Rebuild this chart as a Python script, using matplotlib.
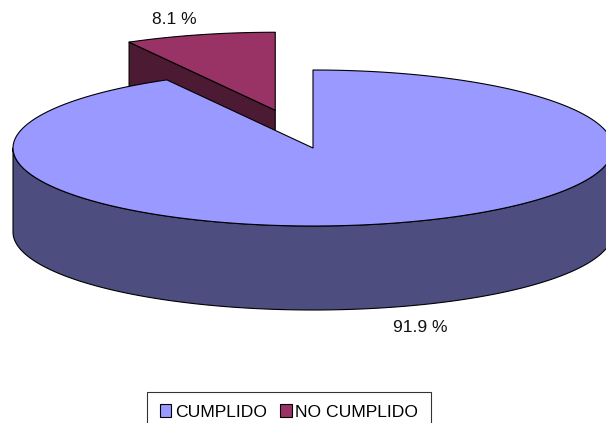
import numpy as np
import matplotlib
matplotlib.use("Agg")
import matplotlib.pyplot as plt
from matplotlib.patches import Polygon, Patch

categories = ["CUMPLIDO", "NO CUMPLIDO"]
values = [91.9, 8.1]
label_pos = [(420, 327), (174, 19)]
top_colors = ["#9999FF", "#993366"]
side_colors = ["#4D4D80", "#4D1A33"]
explode = [0.0, 0.5]

plt.rcParams["font.family"] = ["Liberation Sans", "DejaVu Sans"]

fig = plt.figure(figsize=(6.06, 4.23), dpi=100)
ax = fig.add_axes([0, 0, 1, 1])
ax.set_xlim(0, 606)
ax.set_ylim(423, 0)
ax.axis("off")

CX, CY, RX, RY, DEPTH = 313, 148, 300, 78, 84
LW = 0.8


def pt(cx, cy, a_deg, dz=0.0):
    a = np.deg2rad(a_deg)
    return np.array([cx + RX * np.cos(a), cy - RY * np.sin(a) + dz])


def arc(cx, cy, a1, a2, dz=0.0, n=200):
    ts = np.linspace(a1, a2, n)
    return np.array([pt(cx, cy, t, dz) for t in ts])


# slice angles: start at 12 o'clock, clockwise
slices = []
start = 90.0
for i, v in enumerate(values):
    sweep = 360.0 * v / 100.0
    t2 = start
    t1 = start - sweep
    start = t1
    mid = np.deg2rad((t1 + t2) / 2)
    cx = CX + explode[i] * RX * np.cos(mid)
    cy = CY - explode[i] * RY * np.sin(mid)
    slices.append((i, t1, t2, cx, cy))

# back to front
slices.sort(key=lambda s: s[4])

for i, t1, t2, cx, cy in slices:
    c = np.array([cx, cy])
    cd = np.array([cx, cy + DEPTH])
    # radial faces
    for a, visible in ((t2, np.cos(np.deg2rad(t2)) < -1e-6),
                       (t1, np.cos(np.deg2rad(t1)) > 1e-6)):
        if visible:
            p = pt(cx, cy, a)
            poly = [c, p, p + [0, DEPTH], cd]
            ax.add_patch(Polygon(poly, closed=True, fc=side_colors[i],
                                 ec="black", lw=LW, joinstyle="round"))
    # outer curved side, front half
    for k in range(-2, 2):
        lo, hi = -180 + 360 * k, 0 + 360 * k
        a1, a2 = max(lo, t1), min(hi, t2)
        if a2 > a1:
            top = arc(cx, cy, a1, a2)
            bot = arc(cx, cy, a2, a1, DEPTH)
            ax.add_patch(Polygon(np.vstack([top, bot]), closed=True,
                                 fc=side_colors[i], ec="black", lw=LW,
                                 joinstyle="round"))
    # top face
    top = arc(cx, cy, t1, t2)
    ax.add_patch(Polygon(np.vstack([c, top]), closed=True, fc=top_colors[i],
                         ec="black", lw=LW, joinstyle="round"))

for v, (x, y) in zip(values, label_pos):
    ax.text(x, y, f"{v:.1f} %", ha="center", va="center", fontsize=12.5,
            color="#111111")

handles = [Patch(fc=top_colors[i], ec="black", lw=LW, label=categories[i])
           for i in range(len(categories))]
leg = fig.legend(handles=handles, loc="upper center",
                 bbox_to_anchor=(289 / 606, 1 - 392 / 423), ncol=2,
                 frameon=True, fancybox=False, edgecolor="black",
                 handlelength=0.68, handleheight=0.7, handletextpad=0.2,
                 columnspacing=0.75, borderpad=0.7, borderaxespad=0,
                 prop={"size": 12.6})
leg.get_frame().set_linewidth(LW)

fig.savefig("out.png", dpi=100, facecolor="white")
